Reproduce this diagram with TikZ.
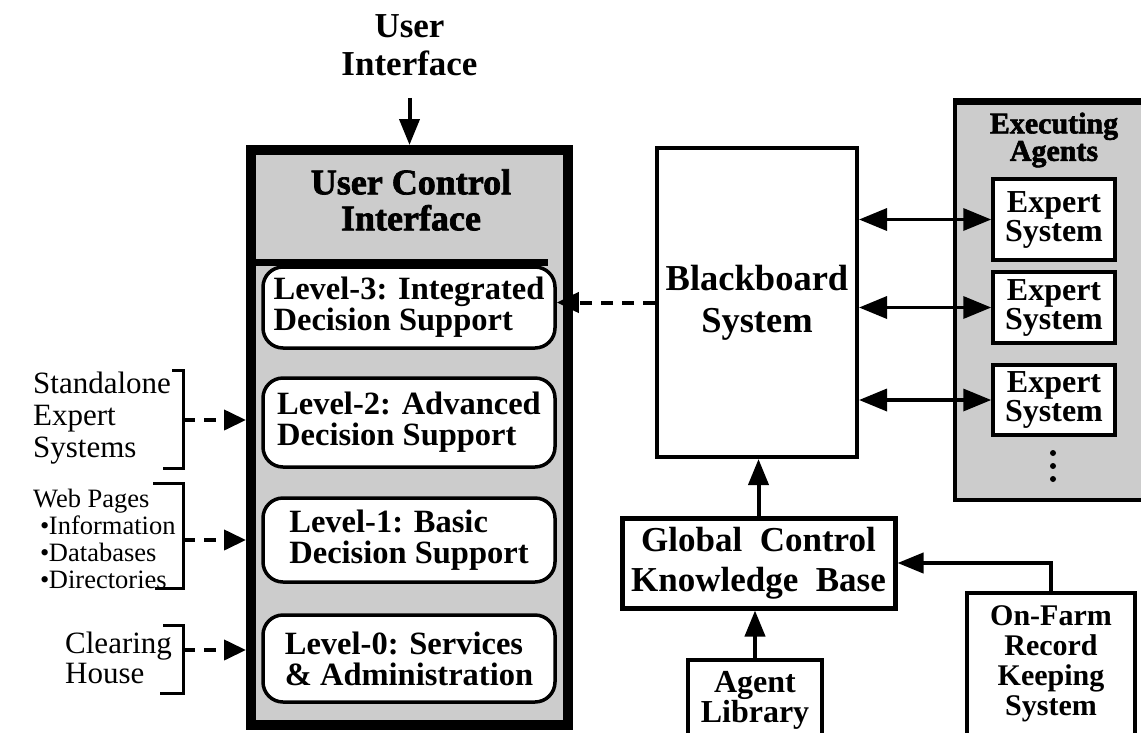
\documentclass[tikz,border=0pt]{standalone}
\usepackage{fontspec}
\setmainfont{Liberation Serif}
\newfontfamily\shadowfont[FakeBold=2]{Liberation Serif Bold}
\usetikzlibrary{arrows.meta}
\tikzset{
  halftone/.style={fill=black!20},
  lvl/.style={draw, line width=3.5pt, rounded corners=20pt, fill=white, minimum width=292pt,
    align=left, inner sep=0pt, font=\bfseries\fontsize{32.5}{31}\selectfont},
  plainbox/.style={draw, line width=4pt, fill=white, inner sep=0pt, align=center},
  arr/.style={line width=4pt, -{Triangle[length=26pt,width=20pt]}},
  darr/.style={line width=4pt, dash pattern=on 12pt off 9pt, -{Triangle[length=22pt,width=20pt]}},
  biarr/.style={line width=3.5pt, {Triangle[length=28pt,width=22pt]}-{Triangle[length=28pt,width=22pt]}},
  brk/.style={line width=3pt},
  lefttext/.style={anchor=west, align=left, inner sep=0pt},
}
\begin{document}
\begin{tikzpicture}[x=1pt,y=-1pt]
\useasboundingbox (0,0) rectangle (1141,732);
\clip (0,0) rectangle (1141,732);

% ---------- main user control box ----------
\node[draw, line width=10pt, halftone, minimum width=317pt, minimum height=575pt, inner sep=0pt] (main) at (409.5,437.5) {};
\draw[line width=7pt] (246,262) -- (548,262);
\node[font=\shadowfont\fontsize{36}{36}\selectfont, align=center, inner sep=0pt] (uci) at (411,200) {User Control\\Interface};

\node[lvl, minimum height=81pt] (l3) at (409,307.5) {Level-3: Integrated\\Decision Support};
\node[lvl, minimum height=89pt] (l2) at (409,422.5) {Level-2: Advanced\\Decision Support};
\node[lvl, minimum height=84pt] (l1) at (409,540) {Level-1: Basic\\Decision Support};
\node[lvl, minimum height=87pt] (l0) at (409,658.5) {Level-0: Services\\\& Administration};

% ---------- user interface ----------
\node[font=\bfseries\fontsize{35}{38}\selectfont, align=center, inner sep=0pt] (ui) at (409.5,45) {User\\Interface};
\draw[arr] ([yshift=-22pt]ui.south) -- (main.north);

% ---------- blackboard ----------
\node[plainbox, minimum width=200pt, minimum height=309pt, font=\bfseries\fontsize{36.5}{42}\selectfont] (bb) at (757,302.5) {Blackboard\\System};
\draw[darr] (bb.west) -- (l3.east |- bb.west);

% ---------- executing agents ----------
\node[draw, line width=4pt, halftone, minimum width=220pt, minimum height=400pt, inner sep=0pt] (ea) at (1065,300) {};
\draw[line width=7pt] (953,101.5) -- (1141,101.5);
\node[font=\shadowfont\fontsize{30}{25}\selectfont, align=center, inner sep=0pt] (eat) at (1054,140) {Executing\\Agents};
\node[plainbox, line width=3.5pt, minimum width=122pt, minimum height=81pt, font=\bfseries\fontsize{32}{29}\selectfont] (es1) at (1054,219.5) {Expert\\System};
\node[plainbox, line width=3.5pt, minimum width=122pt, minimum height=71pt, font=\bfseries\fontsize{32}{29}\selectfont] (es2) at (1054,307.5) {Expert\\System};
\node[plainbox, line width=3.5pt, minimum width=122pt, minimum height=70pt, font=\bfseries\fontsize{32}{29}\selectfont] (es3) at (1054,400) {Expert\\System};
\fill (1053,453) circle (3pt) (1053,466) circle (3pt) (1053,479) circle (3pt);
\draw[biarr] (bb.east |- es1.west) -- (es1.west);
\draw[biarr] (bb.east |- es2.west) -- (es2.west);
\draw[biarr] (bb.east |- es3.west) -- (es3.west);

% ---------- global control ----------
\node[plainbox, line width=5pt, minimum width=273pt, minimum height=90pt, font=\bfseries\fontsize{35}{40}\selectfont] (gk) at (758.5,563) {Global\enspace Control\\Knowledge\enspace Base};
\draw[arr] (gk.north) -- (gk.north |- bb.south);
\node[plainbox, line width=4.5pt, minimum width=134pt, minimum height=80pt, font=\bfseries\fontsize{32}{30}\selectfont] (al) at (755,700) {Agent\\Library};
\draw[arr] (al.north) -- (al.north |- gk.south);
\node[plainbox, line width=4.5pt, minimum width=168pt, minimum height=142pt, font=\bfseries\fontsize{30}{30}\selectfont] (of) at (1051,664) {On-Farm\\Record\\Keeping\\System};
\draw[arr] (of.north) |- (gk.east);

% ---------- left inputs ----------
\node[lefttext, font=\fontsize{31}{32}\selectfont] (sa) at (33,418) {Standalone\\Expert\\Systems};
\draw[brk] (172,370) -- (183,370) -- (183,468) -- (163,468);
\coordinate (b1) at (183,420);
\draw[darr] (b1) -- (main.west |- b1);

\node[lefttext, font=\fontsize{26.5}{27}\selectfont] (wp) at (33,538.5) {Web Pages\\\hspace*{7pt}\textbullet\hspace{-0.5pt}Information\\\hspace*{7pt}\textbullet\hspace{-0.5pt}Databases\\\hspace*{7pt}\textbullet\hspace{-0.5pt}Directories};
\draw[brk] (153,483) -- (183,483) -- (183,588) -- (155,588);
\coordinate (b2) at (183,540);
\draw[darr] (b2) -- (main.west |- b2);

\node[lefttext, font=\fontsize{31}{30}\selectfont] (ch) at (65,657.5) {Clearing\\House};
\draw[brk] (163,625) -- (183,625) -- (183,693) -- (160,693);
\coordinate (b3) at (183,650);
\draw[darr] (b3) -- (main.west |- b3);
\end{tikzpicture}
\end{document}
